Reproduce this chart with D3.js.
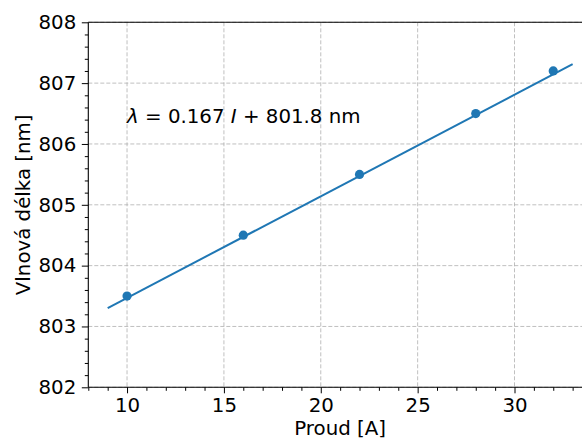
<!DOCTYPE html>
<html>
<head>
<meta charset="utf-8">
<script src="https://cdn.jsdelivr.net/npm/d3@7"></script>
<style>
html,body{margin:0;padding:0;background:#fff;}
svg{display:block;font-family:"DejaVu Sans",sans-serif;}
</style>
</head>
<body>
<svg id="chart" width="582" height="440"></svg>
<script>
// Data
const current = [10, 16, 22, 28, 32];          // Proud [A]
const wavelength = [803.5, 804.5, 805.5, 806.5, 807.2]; // Vlnová délka [nm]
const fitSlope = 0.167;
const fitIntercept = 801.8;
const fitRange = [9, 33];
const xTicks = [10, 15, 20, 25, 30];
const yTicks = [802, 803, 804, 805, 806, 807, 808];
const xDomain = [8, 34];
const yDomain = [802, 808];

const svg = d3.select("#chart");
const mLeft = 88.3, mTop = 22.3, mRight = 592, mBottom = 387.3;
const x = d3.scaleLinear().domain(xDomain).range([mLeft, mRight]);
const y = d3.scaleLinear().domain(yDomain).range([mBottom, mTop]);
const blue = "#1f77b4";
const fs = 19.8;

// Grid
const grid = svg.append("g");
grid.selectAll("line.gx").data(xTicks).join("line")
  .attr("x1", d => x(d)).attr("x2", d => x(d))
  .attr("y1", mTop).attr("y2", mBottom)
  .attr("stroke", "#b0b0b0").attr("stroke-width", 0.8).attr("stroke-dasharray", "4,2");
grid.selectAll("line.gy").data(yTicks).join("line")
  .attr("y1", d => y(d)).attr("y2", d => y(d))
  .attr("x1", mLeft).attr("x2", mRight)
  .attr("stroke", "#b0b0b0").attr("stroke-width", 0.8).attr("stroke-dasharray", "4,2");

// Fit line
const fitData = fitRange.map(v => [v, fitSlope * v + fitIntercept]);
svg.append("path")
  .attr("d", d3.line().x(d => x(d[0])).y(d => y(d[1]))(fitData))
  .attr("fill", "none").attr("stroke", blue).attr("stroke-width", 2);

// Points
svg.selectAll("circle.pt").data(current.map((c, i) => [c, wavelength[i]])).join("circle")
  .attr("cx", d => x(d[0])).attr("cy", d => y(d[1])).attr("r", 4.6).attr("fill", blue);

// Axes
const xAxis = d3.axisBottom(x).tickValues(xTicks).tickSize(6).tickPadding(5).tickFormat(d3.format("d"));
const xMinor = d3.axisBottom(x).tickValues(d3.range(8, 35, 1).filter(v => v % 5 !== 0)).tickSize(3.5).tickFormat("");
const yAxis = d3.axisLeft(y).tickValues(yTicks).tickSize(6.5).tickPadding(5.5).tickFormat(d3.format("d"));
const yMinor = d3.axisLeft(y).tickValues(d3.range(802, 808.01, 0.2).filter(v => Math.abs(v - Math.round(v)) > 0.01)).tickSize(3.5).tickFormat("");

function style(g) {
  g.select(".domain").remove();
  g.selectAll("line").attr("stroke", "#000").attr("stroke-width", 1);
  g.selectAll("text").attr("font-size", fs).attr("fill", "#000").attr("font-family", "DejaVu Sans");
}
svg.append("g").attr("transform", `translate(0,${mBottom})`).call(xMinor).call(style);
svg.append("g").attr("transform", `translate(0,${mBottom})`).call(xAxis).call(style);
svg.append("g").attr("transform", `translate(${mLeft},0)`).call(yMinor).call(style);
svg.append("g").attr("transform", `translate(${mLeft},0)`).call(yAxis).call(style);

// Spines
svg.append("line").attr("x1", mLeft).attr("x2", mLeft).attr("y1", mTop).attr("y2", mBottom).attr("stroke", "#000").attr("stroke-width", 1.1);
svg.append("line").attr("x1", mLeft).attr("x2", mRight).attr("y1", mBottom).attr("y2", mBottom).attr("stroke", "#000").attr("stroke-width", 1.1);
svg.append("line").attr("x1", mLeft).attr("x2", mRight).attr("y1", mTop).attr("y2", mTop).attr("stroke", "#000").attr("stroke-width", 1.1);

// Axis labels
svg.append("text").attr("x", (mLeft + mRight) / 2).attr("y", 435).attr("text-anchor", "middle")
  .attr("font-size", fs).text("Proud [A]");
svg.append("text").attr("transform", `translate(29.5,${(mTop + mBottom) / 2}) rotate(-90)`)
  .attr("text-anchor", "middle").attr("font-size", fs).text("Vlnová délka [nm]");

// Annotation
const ann = svg.append("text").attr("x", x(10)).attr("y", y(806.35)).attr("font-size", fs);
ann.append("tspan").attr("font-style", "italic").text("λ");
ann.append("tspan").text(" = " + fitSlope + " ");
ann.append("tspan").attr("font-style", "italic").text("I");
ann.append("tspan").text(" + " + fitIntercept + " nm");
</script>
</body>
</html>
